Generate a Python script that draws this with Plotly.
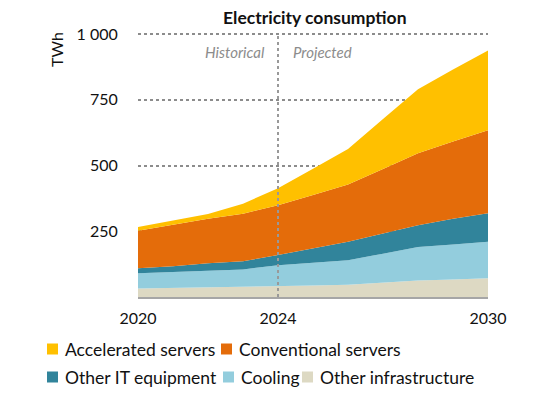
import plotly.graph_objects as go

years = [2020, 2021, 2022, 2023, 2024, 2025, 2026, 2027, 2028, 2029, 2030]

# TWh per component (stacked bottom -> top)
other_infra = [32, 34, 36, 38, 42, 44, 47, 55, 63, 67, 71]
cooling = [58, 61, 64, 67, 79, 86, 93, 110, 127, 133, 139]
other_it = [19, 22, 28, 31, 39, 55, 70, 77, 83, 98, 109]
conventional = [143, 159, 170, 181, 189, 203, 218, 245, 274, 294, 315]
accelerated = [14, 15, 18, 38, 65, 100, 135, 190, 243, 274, 304]

y_ticks = [250, 500, 750, 1000]
y_labels = ["250", "500", "750", "1 000"]
x_ticks = [2020, 2024, 2030]

names = ["Other infrastructure", "Cooling", "Other IT equipment",
         "Conventional servers", "Accelerated servers"]
colors = ["#DDD9C3", "#93CDDD", "#31849B", "#E46C0A", "#FFC000"]
values = [other_infra, cooling, other_it, conventional, accelerated]

# the page body adds an 8px offset, so margins are shifted by it
OFF = 8
W, H = 543, 405
L, R, T = 138 - OFF, 55 + OFF, 31 - OFF
B = H - (297 - OFF)
PW, PH = W - L - R, H - T - B


def px(x):
    # screen pixel -> paper fraction
    return (x - OFF - L) / PW


def py(y):
    return (H - B - (y - OFF)) / PH


fig = go.Figure()

for name, vals, col in zip(names, values, colors):
    fig.add_trace(go.Scatter(
        x=years, y=vals, name=name, stackgroup="one",
        mode="lines", line=dict(width=0, color=col),
        fillcolor=col, showlegend=False))

fig.add_shape(type="line", x0=2024, x1=2024, y0=0, y1=1000,
              xref="x", yref="y",
              line=dict(color="#999999", width=2, dash="dot"))

fig.add_annotation(x=2024, y=932, text="<i>Historical</i>", showarrow=False,
                   xanchor="right", yanchor="middle", xshift=-11,
                   font=dict(size=15, color="#8c8c8c"))
fig.add_annotation(x=2024, y=932, text="<i>Projected</i>", showarrow=False,
                   xanchor="left", yanchor="middle", xshift=13,
                   font=dict(size=15, color="#8c8c8c"))

fig.add_annotation(x=px(315), y=py(18), xref="paper", yref="paper",
                   text="<b>Electricity consumption</b>", showarrow=False,
                   xanchor="center", yanchor="middle", borderpad=0,
                   font=dict(size=17.5, color="#111111"))
fig.add_annotation(x=px(57), y=py(50), xref="paper", yref="paper",
                   text="TWh", textangle=-90, showarrow=False,
                   xanchor="center", yanchor="middle",
                   font=dict(size=16, color="#111111"))

# legend: two rows of small squares + labels, like the reference
legend_order = [4, 3, 2, 1, 0]
legend_pos = [(47, 349), (221, 349), (47, 377), (223, 377), (302, 377)]
sq = 11
for idx, (lx, ly) in zip(legend_order, legend_pos):
    fig.add_shape(type="rect", xref="paper", yref="paper",
                  x0=px(lx), x1=px(lx + sq), y0=py(ly + sq / 2), y1=py(ly - sq / 2),
                  fillcolor=colors[idx], line=dict(width=0))
    fig.add_annotation(x=px(lx + sq + 5), y=py(ly), xref="paper", yref="paper",
                       text=names[idx], showarrow=False,
                       xanchor="left", yanchor="middle",
                       font=dict(size=17.5, color="#111111"))

fig.update_layout(
    width=W, height=H,
    margin=dict(l=L, r=R, t=T, b=B, autoexpand=False),
    paper_bgcolor="white", plot_bgcolor="white",
    font=dict(family="Lato", size=16, color="#111111"),
    showlegend=False,
    xaxis=dict(range=[2020, 2030], tickvals=x_ticks, showgrid=False,
               showline=True, linecolor="#a6a6a6", linewidth=1.5,
               ticks="outside", ticklen=6, tickcolor="rgba(0,0,0,0)",
               zeroline=False),
    yaxis=dict(range=[0, 1012], tickvals=y_ticks, ticktext=y_labels,
               showgrid=True, gridcolor="#8c8c8c", griddash="dot",
               gridwidth=1.5, zeroline=False,
               ticks="outside", ticklen=16, tickcolor="rgba(0,0,0,0)"),
)

fig.write_html("out.html")
